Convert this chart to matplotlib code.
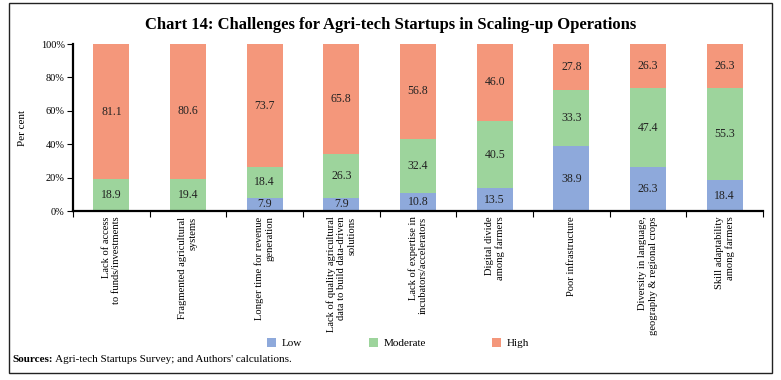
import matplotlib
matplotlib.use("Agg")
import matplotlib.pyplot as plt
import numpy as np
from matplotlib.patches import Rectangle

plt.rcParams["font.family"] = ["Liberation Serif", "DejaVu Serif"]

# 데이터
categories = [
    "Lack of access\nto funds/investments",
    "Fragmented agricultural\nsystems",
    "Longer time for revenue\ngeneration",
    "Lack of quality agricultural\ndata to build data-driven\nsolutions",
    "Lack of expertise in\nincubators/accelerators",
    "Digital divide\namong farmers",
    "Poor infrastructure",
    "Diversity in language,\ngeography & regional crops",
    "Skill adaptability\namong farmers",
]
low = [0.0, 0.0, 7.9, 7.9, 10.8, 13.5, 38.9, 26.3, 18.4]
moderate = [18.9, 19.4, 18.4, 26.3, 32.4, 40.5, 33.3, 47.4, 55.3]
high = [81.1, 80.6, 73.7, 65.8, 56.8, 46.0, 27.8, 26.3, 26.3]
series_names = ["Low", "Moderate", "High"]
colors = ["#8EA9DB", "#9DD49C", "#F4977B"]

fig = plt.figure(figsize=(7.81, 3.80), dpi=100)
ax = fig.add_axes([0.0935, 0.4447, 0.8835, 0.4395])

x = np.arange(len(categories))
bottom = np.zeros(len(categories))
for name, vals, col in zip(series_names, [low, moderate, high], colors):
    vals = np.array(vals)
    ax.bar(x, vals, 0.47, bottom=bottom, color=col, label=name)
    for xi, b, v in zip(x, bottom, vals):
        if v > 0:
            ax.text(xi, b + v / 2, f"{v:.1f}", ha="center", va="center",
                    fontsize=8.5, color="#222222")
    bottom += vals

ax.set_xlim(-0.5, len(categories) - 0.5)
ax.set_ylim(0, 100)
ax.set_yticks(np.arange(0, 101, 20))
ax.set_yticklabels([f"{v}%" for v in range(0, 101, 20)], fontsize=7.5)
ax.set_ylabel("Per cent", fontsize=8, labelpad=10)

# 카테고리 경계에 눈금, 가운데에 라벨
ax.set_xticks(np.arange(-0.5, len(categories), 1.0))
ax.set_xticklabels([])
ax.set_xticks(x, minor=True)
ax.set_xticklabels(categories, minor=True, rotation=90, fontsize=7.6,
                   va="top", ha="center", multialignment="right")
ax.tick_params(axis="x", which="minor", length=0, pad=4)
ax.tick_params(axis="x", which="major", length=4, width=0.8, direction="out")
ax.tick_params(axis="y", length=4, width=0.8, direction="out", pad=2)

for side in ["top", "right"]:
    ax.spines[side].set_visible(False)
ax.spines["left"].set_linewidth(1.6)
ax.spines["bottom"].set_linewidth(1.6)

fig.text(0.5, 0.935, "Chart 14: Challenges for Agri-tech Startups in Scaling-up Operations",
         ha="center", va="center", fontsize=12, fontweight="bold")

fig.legend(loc="center", bbox_to_anchor=(0.51, 0.097), ncol=3, frameon=False,
           fontsize=8, handlelength=0.8, handleheight=0.8, columnspacing=6.0,
           handletextpad=0.5)

# 출처: 굵은 "Sources:" 바로 뒤에 일반 글씨를 이어 붙입니다.
src = fig.text(0.016, 0.055, "Sources:", fontsize=8, fontweight="bold", va="center")
ax.annotate(" Agri-tech Startups Survey; and Authors' calculations.", xy=(1, 0),
            xycoords=src, va="bottom", ha="left", fontsize=8, annotation_clip=False)

fig.patches.append(Rectangle((0.011, 0.018), 0.978, 0.975, transform=fig.transFigure,
                             fill=False, edgecolor="#222222", linewidth=1.0))

fig.savefig("out.png", dpi=100)
